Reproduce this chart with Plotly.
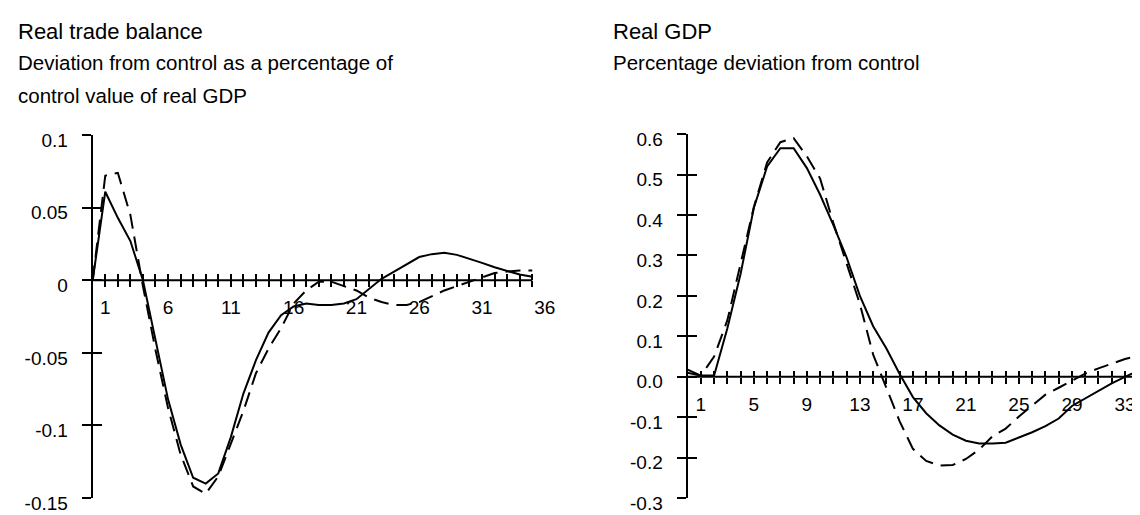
import plotly.graph_objects as go

W, H = 1140, 515

# ---------------- data ----------------
trade_periods = list(range(0, 36))
trade_solid = [0.0, 0.061, 0.043, 0.027, 0.0, -0.042, -0.082, -0.113, -0.136, -0.140,
               -0.133, -0.108, -0.078, -0.055, -0.036, -0.024, -0.018, -0.016, -0.017, -0.017,
               -0.016, -0.013, -0.006, 0.001, 0.006, 0.011, 0.016, 0.018, 0.019, 0.0175,
               0.015, 0.012, 0.009, 0.0065, 0.004, 0.0025]
trade_dashed = [0.0, 0.072, 0.074, 0.045, -0.004, -0.048, -0.088, -0.120, -0.142, -0.147,
                -0.135, -0.113, -0.090, -0.064, -0.047, -0.033, -0.016, -0.007, -0.001, -0.001,
                -0.004, -0.007, -0.012, -0.015, -0.017, -0.017, -0.015, -0.011, -0.007, -0.004,
                -0.001, 0.002, 0.005, 0.006, 0.0067, 0.0067]

gdp_periods = list(range(0, 35))
gdp_solid = [0.018, 0.003, 0.003, 0.12, 0.255, 0.418, 0.52, 0.565, 0.565, 0.516,
             0.45, 0.375, 0.295, 0.20, 0.125, 0.07, 0.007, -0.05, -0.09, -0.12,
             -0.143, -0.158, -0.165, -0.165, -0.163, -0.15, -0.137, -0.122, -0.103, -0.072,
             -0.053, -0.036, -0.016, 0.0, 0.015]
gdp_dashed = [0.01, 0.003, 0.05, 0.14, 0.28, 0.42, 0.53, 0.58, 0.59, 0.545,
              0.49, 0.38, 0.28, 0.18, 0.055, -0.03, -0.11, -0.178, -0.208, -0.219,
              -0.218, -0.203, -0.18, -0.147, -0.128, -0.098, -0.07, -0.044, -0.027, -0.009,
              0.008, 0.021, 0.032, 0.044, 0.052]

trade_label_ticks = [1, 6, 11, 16, 21, 26, 31, 36]
trade_minor_ticks = list(range(1, 36))
trade_y_ticks = [0.1, 0.05, 0, -0.05, -0.1, -0.15]
trade_y_text = ["0.1", "0.05", "0", "-0.05", "-0.1", "-0.15"]

gdp_label_ticks = [1, 5, 9, 13, 17, 21, 25, 29, 33]
gdp_minor_ticks = list(range(1, 35))
gdp_y_ticks = [0.6, 0.5, 0.4, 0.3, 0.2, 0.1, 0.0, -0.1, -0.2, -0.3]
gdp_y_text = ["0.6", "0.5", "0.4", "0.3", "0.2", "0.1", "0.0", "-0.1", "-0.2", "-0.3"]

left_title = ["Real trade balance",
              "Deviation from control as a percentage of",
              "control value of real GDP"]
right_title = ["Real GDP", "Percentage deviation from control"]

# ---------------- geometry helpers ----------------
def fx(p):
    return p / W


def fy(p):
    return (H - p) / H


FONT = "Liberation Sans, Arial, Helvetica, sans-serif"
TICKFONT = dict(family=FONT, size=19, color="black")

# left panel
L_x0, L_x1 = 85, 545
L_xr = [0, 36.5]
L_top, L_bot = 127, 505
L_yr = [-0.1502, 0.1]
L_zero = L_top + (L_yr[1] - 0) / (L_yr[1] - L_yr[0]) * (L_bot - L_top)

# right panel
R_x0, R_x1 = 682, 1140
R_xr = [0, (R_x1 - R_x0) / 13.3]
R_top, R_bot = 126, 505
R_yr = [-0.3005, 0.6]
R_zero = R_top + (R_yr[1] - 0) / (R_yr[1] - R_yr[0]) * (R_bot - R_top)

fig = go.Figure()

line_solid = dict(color="black", width=2)
line_dash = dict(color="black", width=2, dash="15px,8px")

fig.add_trace(go.Scatter(x=trade_periods, y=trade_solid, mode="lines", line=line_solid,
                         xaxis="x", yaxis="y", showlegend=False, hoverinfo="skip"))
fig.add_trace(go.Scatter(x=trade_periods, y=trade_dashed, mode="lines", line=line_dash,
                         xaxis="x", yaxis="y", showlegend=False, hoverinfo="skip"))
fig.add_trace(go.Scatter(x=gdp_periods, y=gdp_solid, mode="lines", line=line_solid,
                         xaxis="x2", yaxis="y2", showlegend=False, hoverinfo="skip"))
fig.add_trace(go.Scatter(x=gdp_periods, y=gdp_dashed, mode="lines", line=line_dash,
                         xaxis="x2", yaxis="y2", showlegend=False, hoverinfo="skip"))
# helper (invisible) traces so overlay axes carrying crossing tick marks are drawn
for xa, ya in [("x3", "y3"), ("x5", "y3"), ("x4", "y4"), ("x6", "y4")]:
    fig.add_trace(go.Scatter(x=[0], y=[0], mode="lines", line=dict(width=0),
                             xaxis=xa, yaxis=ya, showlegend=False, hoverinfo="skip"))

common_off = dict(showgrid=False, zeroline=False, fixedrange=True)


def label_xaxis(dom, rng, zero_px, vals):
    return dict(domain=dom, range=rng, anchor="free", position=fy(zero_px),
                tickmode="array", tickvals=vals, ticktext=[str(v) for v in vals],
                ticks="", showline=False, tickfont=TICKFONT, ticklabelstandoff=14,
                ticklabeloverflow="allow", **common_off)


def tick_xaxis(dom, rng, zero_px, vals, side_ticks, over):
    return dict(domain=dom, range=rng, anchor="free", position=fy(zero_px),
                overlaying=over, tickmode="array", tickvals=vals,
                ticks=side_ticks, ticklen=6, tickwidth=2, tickcolor="black",
                showticklabels=False, showline=False, **common_off)


def label_yaxis(dom, rng, anchor, vals, text):
    return dict(domain=dom, range=rng, anchor=anchor,
                tickmode="array", tickvals=vals, ticktext=text,
                ticks="outside", ticklen=9, tickwidth=2, tickcolor="black",
                showline=True, linecolor="black", linewidth=2,
                tickfont=TICKFONT, ticklabelstandoff=10, ticklabelshift=5,
                ticklabeloverflow="allow", **common_off)


def tick_yaxis(dom, rng, anchor, vals, over):
    return dict(domain=dom, range=rng, anchor=anchor, overlaying=over,
                tickmode="array", tickvals=vals, ticks="inside", ticklen=9,
                tickwidth=2, tickcolor="black", showticklabels=False, showline=False,
                **common_off)


L_dom = [fx(L_x0), fx(L_x1)]
R_dom = [fx(R_x0), fx(R_x1)]
L_ydom = [fy(L_bot), fy(L_top)]
R_ydom = [fy(R_bot), fy(R_top)]

fig.update_layout(
    width=W, height=H,
    margin=dict(l=0, r=0, t=0, b=0),
    paper_bgcolor="white", plot_bgcolor="rgba(0,0,0,0)",
    xaxis=label_xaxis(L_dom, L_xr, L_zero, trade_label_ticks),
    xaxis3=tick_xaxis(L_dom, L_xr, L_zero, trade_minor_ticks, "outside", "x"),
    xaxis5=tick_xaxis(L_dom, L_xr, L_zero, trade_minor_ticks, "inside", "x"),
    yaxis=label_yaxis(L_ydom, L_yr, "x", trade_y_ticks, trade_y_text),
    yaxis3=tick_yaxis(L_ydom, L_yr, "x3", trade_y_ticks, "y"),
    xaxis2=label_xaxis(R_dom, R_xr, R_zero, gdp_label_ticks),
    xaxis4=tick_xaxis(R_dom, R_xr, R_zero, gdp_minor_ticks, "outside", "x2"),
    xaxis6=tick_xaxis(R_dom, R_xr, R_zero, gdp_minor_ticks, "inside", "x2"),
    yaxis2=label_yaxis(R_ydom, R_yr, "x2", gdp_y_ticks, gdp_y_text),
    yaxis4=tick_yaxis(R_ydom, R_yr, "x4", gdp_y_ticks, "y2"),
)

# horizontal axis lines through zero
fig.add_shape(type="line", xref="x", yref="y", x0=0, x1=trade_minor_ticks[-1], y0=0, y1=0,
              line=dict(color="black", width=2))
fig.add_shape(type="line", xref="x2", yref="y2", x0=0, x1=R_xr[1], y0=0, y1=0,
              line=dict(color="black", width=2))

# titles
for i, (txt, yc) in enumerate(zip(left_title, [19, 52, 86])):
    fig.add_annotation(text=txt, xref="paper", yref="paper", x=fx(8), y=fy(yc),
                       xanchor="left", yanchor="middle", showarrow=False,
                       font=dict(family=FONT, size=22 if i == 0 else 20.5, color="black"))
for i, (txt, yc) in enumerate(zip(right_title, [19, 52])):
    fig.add_annotation(text=txt, xref="paper", yref="paper", x=fx(605), y=fy(yc),
                       xanchor="left", yanchor="middle", showarrow=False,
                       font=dict(family=FONT, size=22 if i == 0 else 20.5, color="black"))

fig.write_html("out.html")
